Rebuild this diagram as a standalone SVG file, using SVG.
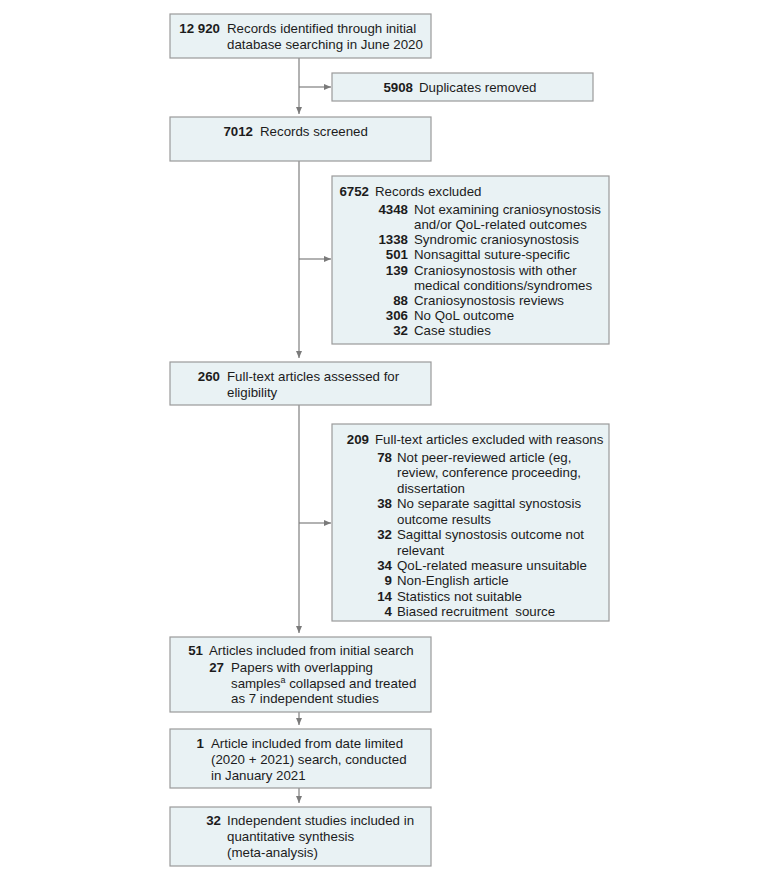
<svg xmlns="http://www.w3.org/2000/svg" width="780" height="880" viewBox="0 0 780 880">
<defs>
<marker id="ah" markerUnits="userSpaceOnUse" markerWidth="8" markerHeight="8" refX="7" refY="3.5" orient="auto">
<path d="M0,0.5 L7,3.5 L0,6.5 Z" fill="#7a7a7a"/>
</marker>
<style>
.box{fill:#e9f2f4;stroke:#9a9a9a;stroke-width:1.2}
text{font-family:"Liberation Sans",Arial,sans-serif;font-size:13.3px;fill:#1c1c1c}
.n{font-weight:bold;text-anchor:end}
.c{fill:none;stroke:#7f7f7f;stroke-width:1.2}
</style>
</defs>
<rect width="780" height="880" fill="#ffffff"/>
<g id="connectors">
<line class="c" x1="299" y1="58" x2="299" y2="114" marker-end="url(#ah)"/>
<line class="c" x1="299" y1="87" x2="331" y2="87" marker-end="url(#ah)"/>
<line class="c" x1="299" y1="161" x2="299" y2="358" marker-end="url(#ah)"/>
<line class="c" x1="299" y1="259" x2="331" y2="259" marker-end="url(#ah)"/>
<line class="c" x1="299" y1="405" x2="299" y2="633" marker-end="url(#ah)"/>
<line class="c" x1="299" y1="523" x2="331" y2="523" marker-end="url(#ah)"/>
<line class="c" x1="299" y1="712" x2="299" y2="725" marker-end="url(#ah)"/>
<line class="c" x1="299" y1="788" x2="299" y2="803" marker-end="url(#ah)"/>
</g>
<g id="identified">
<rect class="box" x="170" y="14" width="261" height="44"/>
<text class="n" x="220" y="33">12 920</text>
<text x="227" y="33">Records identified through initial</text>
<text x="227" y="49">database searching in June 2020</text>
</g>
<g id="duplicates">
<rect class="box" x="332" y="73" width="261" height="28"/>
<text class="n" x="413" y="92">5908</text>
<text x="419" y="92">Duplicates removed</text>
</g>
<g id="screened">
<rect class="box" x="170" y="117" width="261" height="44"/>
<text class="n" x="253" y="136">7012</text>
<text x="260" y="136">Records screened</text>
</g>
<g id="excluded1">
<rect class="box" x="332" y="176" width="277" height="168"/>
<text class="n" x="369" y="196">6752</text>
<text x="375" y="196">Records excluded</text>
<text class="n" x="408" y="213.8">4348</text>
<text x="414" y="213.8">Not examining craniosynostosis</text>
<text x="414" y="229">and/or QoL-related outcomes</text>
<text class="n" x="408" y="244.1">1338</text>
<text x="414" y="244.1">Syndromic craniosynostosis</text>
<text class="n" x="408" y="259.3">501</text>
<text x="414" y="259.3">Nonsagittal suture-specific</text>
<text class="n" x="408" y="274.5">139</text>
<text x="414" y="274.5">Craniosynostosis with other</text>
<text x="414" y="289.7">medical conditions/syndromes</text>
<text class="n" x="408" y="304.8">88</text>
<text x="414" y="304.8">Craniosynostosis reviews</text>
<text class="n" x="408" y="320">306</text>
<text x="414" y="320">No QoL outcome</text>
<text class="n" x="408" y="335.2">32</text>
<text x="414" y="335.2">Case studies</text>
</g>
<g id="assessed">
<rect class="box" x="170" y="362" width="261" height="43"/>
<text class="n" x="220" y="381">260</text>
<text x="227" y="381">Full-text articles assessed for</text>
<text x="227" y="397">eligibility</text>
</g>
<g id="excluded2">
<rect class="box" x="332" y="424" width="277" height="197"/>
<text class="n" x="369" y="444">209</text>
<text x="375" y="444">Full-text articles excluded with reasons</text>
<text class="n" x="392" y="462">78</text>
<text x="397" y="462">Not peer-reviewed article (eg,</text>
<text x="397" y="477.4">review, conference proceeding,</text>
<text x="397" y="492.9">dissertation</text>
<text class="n" x="392" y="508.3">38</text>
<text x="397" y="508.3">No separate sagittal synostosis</text>
<text x="397" y="523.7">outcome results</text>
<text class="n" x="392" y="539.2">32</text>
<text x="397" y="539.2">Sagittal synostosis outcome not</text>
<text x="397" y="554.6">relevant</text>
<text class="n" x="392" y="570">34</text>
<text x="397" y="570">QoL-related measure unsuitable</text>
<text class="n" x="392" y="585.4">9</text>
<text x="397" y="585.4">Non-English article</text>
<text class="n" x="392" y="600.9">14</text>
<text x="397" y="600.9">Statistics not suitable</text>
<text class="n" x="392" y="616.3">4</text>
<text x="397" y="616.3">Biased recruitment&#160; source</text>
</g>
<g id="included">
<rect class="box" x="170" y="637" width="261" height="75"/>
<text class="n" x="203" y="655">51</text>
<text x="209" y="655">Articles included from initial search</text>
<text class="n" x="224" y="672">27</text>
<text x="231" y="672">Papers with overlapping</text>
<text x="231" y="687.5">samples<tspan font-size="9" dy="-5">a</tspan><tspan dy="5"> collapsed and treated</tspan></text>
<text x="231" y="703">as 7 independent studies</text>
</g>
<g id="datelimited">
<rect class="box" x="170" y="729" width="261" height="59"/>
<text class="n" x="204" y="748">1</text>
<text x="211" y="748">Article included from date limited</text>
<text x="211" y="764">(2020 + 2021) search, conducted</text>
<text x="211" y="780">in January 2021</text>
</g>
<g id="synthesis">
<rect class="box" x="170" y="807" width="261" height="59"/>
<text class="n" x="221" y="825">32</text>
<text x="227" y="825">Independent studies included in</text>
<text x="227" y="841">quantitative synthesis</text>
<text x="227" y="857">(meta-analysis)</text>
</g>
</svg>
